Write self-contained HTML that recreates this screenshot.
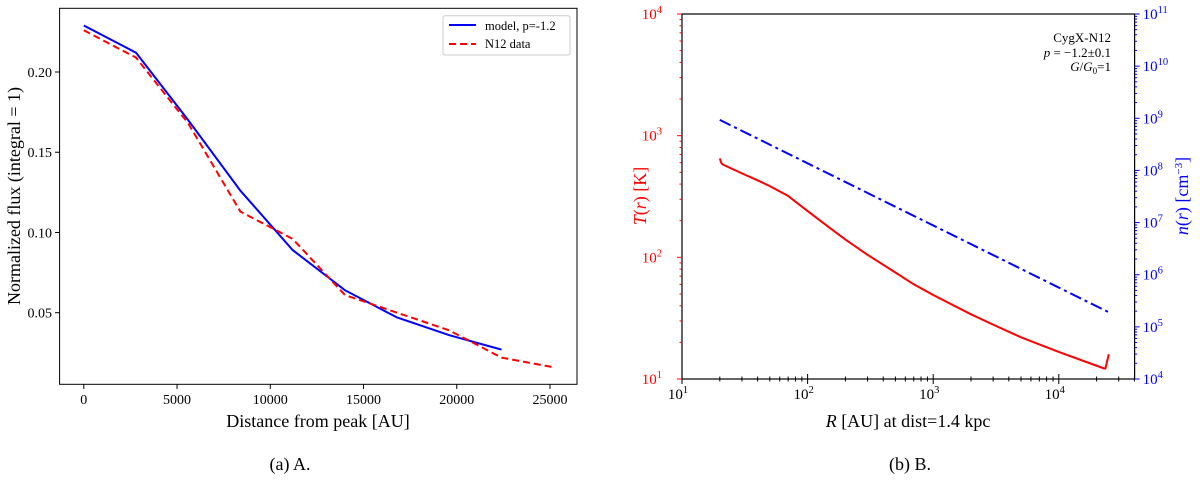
<!DOCTYPE html>
<html><head><meta charset="utf-8"><style>
body{margin:0;background:#fff}
svg{font-family:"Liberation Serif","DejaVu Serif",serif}
</style></head><body>
<svg id="fig" width="1200" height="477" xmlns="http://www.w3.org/2000/svg">
<g id="A"></g>
<g id="B"></g>
<text x="290" y="470" font-size="18" text-anchor="middle">(a) A.</text>
<text x="910" y="470" font-size="18" text-anchor="middle">(b) B.</text>
</svg>
<script>
const distA = [0,2800,5600,8400,11200,14000,16800,19600,22400];
const modelFlux = [0.229,0.212,0.170,0.126,0.089,0.064,0.047,0.036,0.027];
const distN12 = [0,2800,5600,8400,11200,14000,16800,19600,22400,25200];
const n12Flux = [0.226,0.209,0.168,0.113,0.096,0.061,0.050,0.039,0.022,0.016];
const xTicksA = [0,5000,10000,15000,20000,25000];
const yTicksA = [0.05,0.10,0.15,0.20];
const rT = [20,20.5,21,30,40,50,70,100,150,200,300,500,700,1000,2000,3000,5000,10000,23000,23500,25000];
const tempT = [650,600,580,490,430,385,320,240,175,140,105,75,60,49,34,28,22,16.7,12.2,12.2,16];
const rN = [20,25000];
const densN = [9.3e8,1.9e5];
const xTicksB = [1,2,3,4];
const yTicksBL = [1,2,3,4];
const yTicksBR = [4,5,6,7,8,9,10,11];

const NS='http://www.w3.org/2000/svg';
function mk(p,tag,attrs,txt){const e=document.createElementNS(NS,tag);for(const k in attrs)e.setAttribute(k,attrs[k]);if(txt!=null)e.textContent=txt;p.appendChild(e);return e;}
const A=document.getElementById('A'),B=document.getElementById('B');

// Panel A
const ax=v=>83.8+v*(550-83.8)/25000;
const ay=v=>72+(0.20-v)*(312.7-72)/0.15;
function pathOf(xs,ys,fx,fy){return xs.map((x,i)=>(i?'L':'M')+fx(x).toFixed(1)+','+fy(ys[i]).toFixed(1)).join(' ');}
let e=mk(A,'path',{d:pathOf(distA,modelFlux,ax,ay),fill:'none',stroke:'#0000ff','stroke-width':2});


e=mk(A,'path',{d:pathOf(distN12,n12Flux,ax,ay),fill:'none',stroke:'#ff0000','stroke-width':2,'stroke-dasharray':'7,4'});


e=mk(A,'rect',{x:59.6,y:8.3,width:517.4,height:376,fill:'none',stroke:'#000','stroke-width':1});


xTicksA.forEach(t=>{mk(A,'line',{x1:ax(t),x2:ax(t),y1:384.3,y2:389,stroke:'#000'});
 e=mk(A,'text',{x:ax(t),y:404,'font-size':14,'text-anchor':'middle'},String(t));
 
 });
yTicksA.forEach(t=>{mk(A,'line',{x1:55,x2:59.6,y1:ay(t),y2:ay(t),stroke:'#000'});
 e=mk(A,'text',{x:52,y:ay(t)+5,'font-size':14,'text-anchor':'end'},t.toFixed(2));
 
 });
mk(A,'text',{x:318,y:427,'font-size':18,'text-anchor':'middle',},'Distance from peak [AU]');
mk(A,'text',{x:0,y:0,'font-size':18,'text-anchor':'middle',transform:'translate(20,196) rotate(-90)',},'Normalized flux (integral = 1)');
const lg=mk(A,'g',{});
mk(lg,'rect',{x:443,y:15.7,width:127,height:39.3,fill:'#fff',stroke:'#ccc',rx:2});
mk(lg,'line',{x1:449,x2:476,y1:25,y2:25,stroke:'#0000ff','stroke-width':2});
mk(lg,'text',{x:485,y:30,'font-size':12.5},'model, p=-1.2');
mk(lg,'line',{x1:449,x2:476,y1:44,y2:44,stroke:'#ff0000','stroke-width':2,'stroke-dasharray':'7,4'});
mk(lg,'text',{x:485,y:48,'font-size':12.5},'N12 data');

// Panel B
const X0=682,X1=1134.6,Y0=14,Y1=379,dec=125.6;
const bx=r=>X0+(Math.log10(r)-1)*dec;
const byL=v=>Y1-(Math.log10(v)-1)*(Y1-Y0)/3;
const byR=v=>Y1-(Math.log10(v)-4)*(Y1-Y0)/7;
e=mk(B,'path',{d:pathOf(rN,densN,bx,byR),fill:'none',stroke:'#0000ff','stroke-width':2,'stroke-dasharray':'12,4,3,4'});


e=mk(B,'path',{d:pathOf(rT,tempT,bx,byL),fill:'none',stroke:'#ff0000','stroke-width':2,'stroke-linejoin':'round'});


e=mk(B,'rect',{x:X0,y:Y0,width:X1-X0,height:Y1-Y0,fill:'none',stroke:'#000','stroke-width':1.2});


for(let d=1;d<=4;d++){for(let m=1;m<10;m++){const r=m*Math.pow(10,d);if(bx(r)>X1)break;const L=m==1?5:2.5;
 mk(B,'line',{x1:bx(r),x2:bx(r),y1:Y1,y2:Y1+L,stroke:'#000'});mk(B,'line',{x1:bx(r),x2:bx(r),y1:Y1,y2:Y1-L,stroke:'#000'});}}
xTicksB.forEach(p=>{const t=mk(B,'text',{x:bx(Math.pow(10,p))-4,y:399,'font-size':15,'text-anchor':'middle'},'10');
 mk(t,'tspan',{dy:-6,'font-size':10.5},String(p));
 
 });
for(let d=1;d<4;d++){for(let m=1;m<10;m++){const v=m*Math.pow(10,d);const L=m==1?5:2.5;
 mk(B,'line',{x1:X0-L,x2:X0,y1:byL(v),y2:byL(v),stroke:'#ff0000'});}}
mk(B,'line',{x1:X0-5,x2:X0,y1:Y0,y2:Y0,stroke:'#ff0000'});
yTicksBL.forEach(p=>{const t=mk(B,'text',{x:X0-20,y:byL(Math.pow(10,p))+5,'font-size':15,'text-anchor':'end',fill:'#ff0000'},'10');
 mk(t,'tspan',{dy:-6,'font-size':10.5},String(p));
 
 });
for(let d=4;d<11;d++){for(let m=1;m<10;m++){const v=m*Math.pow(10,d);const L=m==1?5:2.5;
 mk(B,'line',{x1:X1,x2:X1+L,y1:byR(v),y2:byR(v),stroke:'#0000ff'});}}
mk(B,'line',{x1:X1,x2:X1+5,y1:Y0,y2:Y0,stroke:'#0000ff'});
yTicksBR.forEach(p=>{const t=mk(B,'text',{x:X1+8,y:byR(Math.pow(10,p))+5,'font-size':15,fill:'#0000ff'},'10');
 mk(t,'tspan',{dy:-6,'font-size':10.5},String(p));
 
 });
mk(B,'text',{x:908,y:427,'font-size':18,'text-anchor':'middle',},'').innerHTML='<tspan font-style="italic">R</tspan> [AU] at dist=1.4 kpc';
mk(B,'text',{x:0,y:0,'font-size':18,'text-anchor':'middle',fill:'#ff0000',transform:'translate(646,196) rotate(-90)',}).innerHTML='<tspan font-style="italic">T</tspan>(<tspan font-style="italic">r</tspan>) [K]';
mk(B,'text',{x:0,y:0,'font-size':18,'text-anchor':'middle',fill:'#0000ff',transform:'translate(1188,196) rotate(-90)',}).innerHTML='<tspan font-style="italic">n</tspan>(<tspan font-style="italic">r</tspan>) [cm<tspan dy="-6" font-size="11">−3</tspan><tspan dy="6">]</tspan>';
const an=mk(B,'g',{});
mk(an,'text',{x:1111,y:42,'font-size':13,'text-anchor':'end'},'CygX-N12');
mk(an,'text',{x:1111,y:57,'font-size':13,'text-anchor':'end'}).innerHTML='<tspan font-style="italic">p</tspan> = −1.2±0.1';
mk(an,'text',{x:1111,y:71,'font-size':13,'text-anchor':'end'}).innerHTML='<tspan font-style="italic">G</tspan>/<tspan font-style="italic">G</tspan><tspan font-size="9" dy="3">0</tspan><tspan dy="-3">=1</tspan>';
</script>
</body></html>
